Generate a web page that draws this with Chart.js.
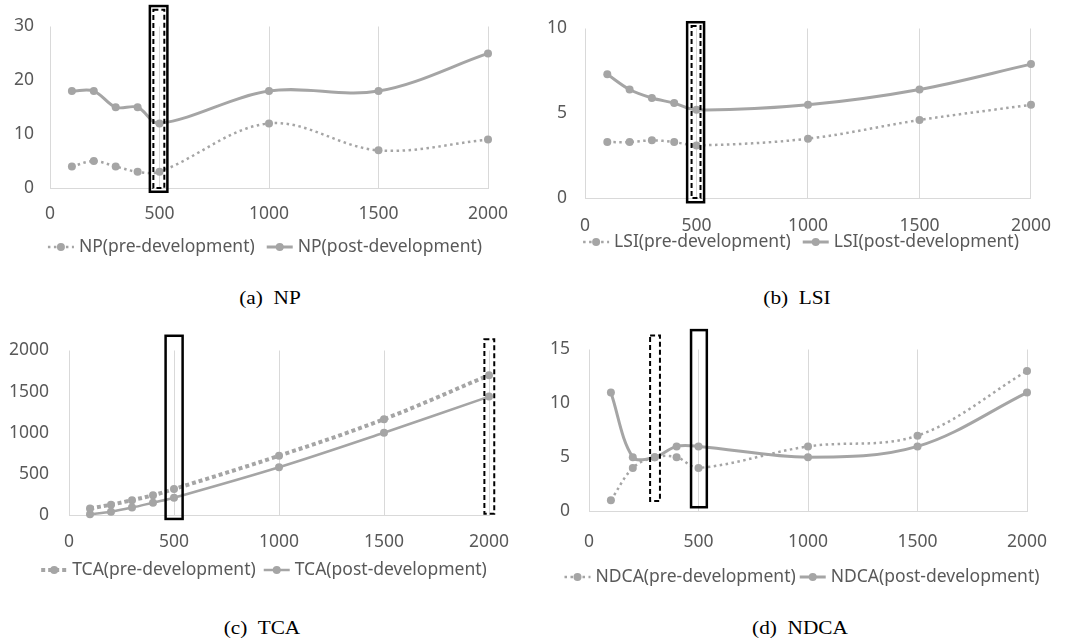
<!DOCTYPE html>
<html>
<head>
<meta charset="utf-8">
<script src="https://cdn.jsdelivr.net/npm/chart.js@4.4.0/dist/chart.umd.min.js"></script>
<style>
  body { margin: 0; background: #fff; }
  #wrap { position: relative; width: 1069px; height: 643px; overflow: hidden; }
  canvas { position: absolute; }
  .cap {
    position: absolute;
    font-family: 'Liberation Serif', 'Times New Roman', serif;
    font-size: 19px;
    line-height: 1;
    color: #000;
    white-space: pre;
    transform: translate(-50%, -50%) scaleX(1.12);
  }
</style>
</head>
<body>
<div id="wrap">
  <canvas id="np" width="535" height="265" style="left:0;top:0"></canvas>
  <canvas id="lsi" width="534" height="265" style="left:535px;top:0"></canvas>
  <canvas id="tca" width="535" height="270" style="left:0;top:320px"></canvas>
  <canvas id="ndca" width="534" height="270" style="left:535px;top:320px"></canvas>
  <div class="cap" style="left:270px;top:297px">(a)  NP</div>
  <div class="cap" style="left:797px;top:297px">(b)  LSI</div>
  <div class="cap" style="left:262px;top:627px">(c)  TCA</div>
  <div class="cap" style="left:800px;top:627px">(d)  NDCA</div>
</div>
<script>
// distance (x) shared by all four panels
const distances = [100, 200, 300, 400, 500, 1000, 1500, 2000]

const npPre = [4, 5, 4, 3, 3, 12, 7, 9]
const npPost = [18, 18, 15, 15, 12, 18, 18, 25]
const lsiPre = [3.3, 3.3, 3.4, 3.3, 3.1, 3.5, 4.6, 5.5]
const lsiPost = [7.3, 6.4, 5.9, 5.6, 5.2, 5.5, 6.4, 7.9]
const tcaPre = [80, 125, 180, 240, 315, 720, 1165, 1700]
const tcaPost = [10, 40, 90, 150, 210, 580, 1000, 1440]
const ndcaPre = [1, 4, 5, 5, 4, 6, 7, 13]
const ndcaPost = [11, 5, 5, 6, 6, 5, 6, 11]

// highlight boxes in data units: [xFrom, xTo, yFrom, yTo, dashed]
const npBoxes = [[456, 536, -0.7, 33.8, false], [472, 522, 0, 33.1, true]]
const lsiBoxes = [[458, 534, -0.25, 10.37, false], [478, 518, 0, 10.15, true]]
const tcaBoxes = [[460, 541, -48, 2179, false], [1978, 2025, 15, 2138, true]]
const ndcaBoxes = [[279, 324, 0.94, 16.3, true], [466, 538, 0.35, 16.8, false]]

const GRAY = '#a5a5a5'
const TEXT = '#595959'
const FONT = 'Noto Sans'

const toPoints = (vals) => vals.map((v, i) => ({ x: distances[i], y: v }))

const boxPlugin = {
  id: 'boxes',
  afterDatasetsDraw(chart, args, opts) {
    const { x, y } = chart.scales
    const ctx = chart.ctx
    ctx.save()
    ctx.strokeStyle = '#000'
    opts.list.forEach(([x1, x2, y1, y2, dashed]) => {
      ctx.lineWidth = dashed ? 2 : 2.5
      ctx.setLineDash(dashed ? [5, 3] : [])
      const l = x.getPixelForValue(x1)
      const r = x.getPixelForValue(x2)
      const t = y.getPixelForValue(y2)
      const b = y.getPixelForValue(y1)
      ctx.strokeRect(l, t, r - l, b - t)
    })
    ctx.restore()
  },
}

// excel-like legend: line segment with marker, then label
const legendPlugin = {
  id: 'lineLegend',
  afterDraw(chart, args, opts) {
    const ctx = chart.ctx
    ctx.save()
    ctx.font = `17.5px "${FONT}"`
    const sym = 26
    const items = chart.data.datasets.map((ds) => ({ ds, w: sym + 5 + ctx.measureText(ds.label).width }))
    const total = items.reduce((s, it) => s + it.w, 0) + opts.gap * (items.length - 1)
    let x = opts.x - total / 2
    items.forEach(({ ds, w }) => {
      ctx.strokeStyle = ds.borderColor
      ctx.lineWidth = ds.borderWidth
      ctx.setLineDash(ds.borderDash || [])
      ctx.beginPath()
      ctx.moveTo(x, opts.y)
      ctx.lineTo(x + sym, opts.y)
      ctx.stroke()
      ctx.setLineDash([])
      ctx.fillStyle = ds.borderColor
      ctx.beginPath()
      ctx.arc(x + sym / 2, opts.y, 4, 0, Math.PI * 2)
      ctx.fill()
      ctx.fillStyle = TEXT
      ctx.textBaseline = 'middle'
      ctx.textAlign = 'left'
      ctx.fillText(ds.label, x + sym + 5, opts.y)
      x += w + opts.gap
    })
    ctx.restore()
  },
}

function makeChart(p) {
  const canvas = document.getElementById(p.id)
  const [l, t, r, b] = p.area
  const line = (label, vals, dash, width) => ({
    label,
    data: toPoints(vals),
    borderColor: GRAY,
    backgroundColor: GRAY,
    borderWidth: width,
    borderDash: dash,
    pointRadius: 4,
    pointBorderWidth: 0,
    pointBackgroundColor: GRAY,
    tension: 0.35,
    clip: false,
  })
  new Chart(canvas, {
    type: 'line',
    data: {
      datasets: [
        line(p.name + '(pre-development)', p.pre, p.preDash, p.preWidth),
        line(p.name + '(post-development)', p.post, [], p.postWidth),
      ],
    },
    plugins: [boxPlugin, legendPlugin],
    options: {
      responsive: false,
      animation: false,
      events: [],
      layout: { padding: { left: 0, top: t, right: canvas.width - r, bottom: 0 } },
      scales: {
        x: {
          type: 'linear',
          min: 0,
          max: 2000,
          afterFit: (s) => { s.height = canvas.height - b },
          ticks: {
            stepSize: 500,
            padding: p.xPad,
            color: TEXT,
            font: { family: FONT, size: 17.5 },
            maxRotation: 0,
            callback: (v) => String(v),
          },
          grid: { color: '#d9d9d9', drawTicks: false },
          border: { color: '#d9d9d9' },
        },
        y: {
          min: 0,
          max: p.yMax,
          afterFit: (s) => { s.width = l },
          ticks: {
            stepSize: p.yStep,
            padding: p.yPad,
            color: TEXT,
            font: { family: FONT, size: 17.5 },
            callback: (v) => String(v),
          },
          grid: { display: false, drawTicks: false },
          border: { display: false },
        },
      },
      plugins: {
        legend: { display: false },
        tooltip: { enabled: false },
        boxes: { list: p.boxes },
        lineLegend: p.legend,
      },
    },
  })
}

makeChart({
  id: 'np', name: 'NP', pre: npPre, post: npPost, boxes: npBoxes,
  area: [50, 23, 488, 188], yMax: 30, yStep: 10, xPad: 16, yPad: 16,
  preDash: [2.5, 3.5], preWidth: 2.5, postWidth: 3,
  legend: { x: 265, y: 247, gap: 12 },
})
makeChart({
  id: 'lsi', name: 'LSI', pre: lsiPre, post: lsiPost, boxes: lsiBoxes,
  area: [50, 22, 497, 198], yMax: 10, yStep: 5, xPad: 18, yPad: 18,
  preDash: [2.5, 3.5], preWidth: 2.5, postWidth: 3,
  legend: { x: 266, y: 242, gap: 12 },
})
makeChart({
  id: 'tca', name: 'TCA', pre: tcaPre, post: tcaPost, boxes: tcaBoxes,
  area: [69, 27, 489, 195], yMax: 2000, yStep: 500, xPad: 17, yPad: 20,
  preDash: [4, 3], preWidth: 4, postWidth: 2.5,
  legend: { x: 264, y: 250, gap: 8 },
})
makeChart({
  id: 'ndca', name: 'NDCA', pre: ndcaPre, post: ndcaPost, boxes: ndcaBoxes,
  area: [54, 21, 492, 191], yMax: 15, yStep: 5, xPad: 21, yPad: 19,
  preDash: [2.5, 3.5], preWidth: 2.5, postWidth: 3,
  legend: { x: 267, y: 257, gap: 4 },
})
</script>
</body>
</html>
